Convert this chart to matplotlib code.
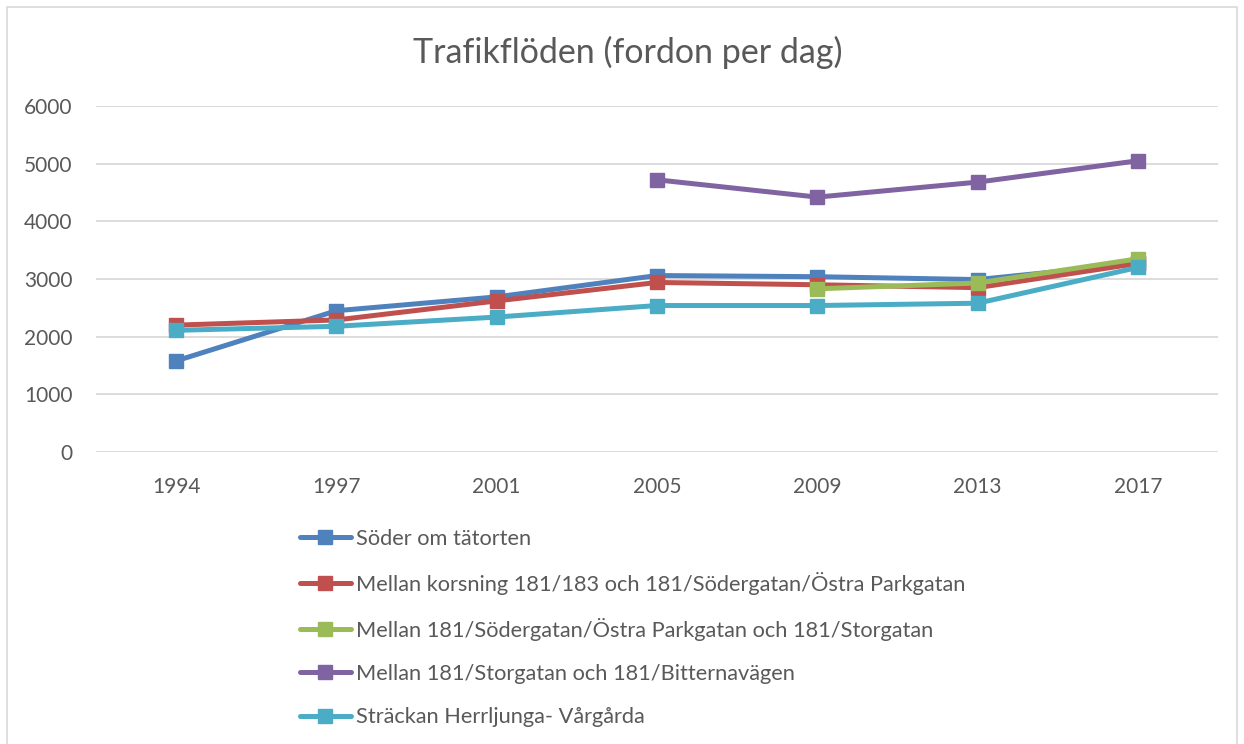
import matplotlib
matplotlib.use("Agg")
import matplotlib.pyplot as plt
from matplotlib.patches import Rectangle

plt.rcParams['font.family'] = ['Lato', 'DejaVu Sans']

ar = ["1994", "1997", "2001", "2005", "2009", "2013", "2017"]
soder = [1580, 2450, 2690, 3060, 3040, 2990, 3270]
mellan_korsning = [2200, 2290, 2620, 2940, 2900, 2850, 3270]
mellan_sodergatan = [None, None, None, None, 2830, 2930, 3350]
mellan_storgatan = [None, None, None, 4720, 4420, 4680, 5050]
herrljunga = [2110, 2180, 2340, 2540, 2540, 2580, 3200]

serier = [
    ("Söder om tätorten", soder, "#4F81BD"),
    ("Mellan korsning 181/183 och 181/Södergatan/Östra Parkgatan", mellan_korsning, "#C0504D"),
    ("Mellan 181/Södergatan/Östra Parkgatan och 181/Storgatan", mellan_sodergatan, "#9BBB59"),
    ("Mellan 181/Storgatan och 181/Bitternavägen", mellan_storgatan, "#8064A2"),
    ("Sträckan Herrljunga- Vårgårda", herrljunga, "#4BACC6"),
]

grå = "#595959"
fig = plt.figure(figsize=(12.44, 7.44), dpi=100)
ax = fig.add_axes([96/1244, 1-452/744, 1122/1244, 346/744])

x = list(range(len(ar)))
for namn, varden, farg in serier:
    xs = [i for i, v in zip(x, varden) if v is not None]
    ys = [v for v in varden if v is not None]
    ax.plot(xs, ys, color=farg, lw=3.6, marker="s", ms=10.5, label=namn,
            solid_joinstyle="round", solid_capstyle="round")

ax.set_xlim(-0.5, 6.5)
ax.set_ylim(0, 6000)
ax.set_xticks(x)
ax.set_xticklabels(ar)
ax.set_yticks(range(0, 6001, 1000))
ax.tick_params(length=0, labelsize=15, labelcolor=grå, pad=17)
ax.tick_params(axis="x", pad=18)
ax.grid(axis="y", color="#d9d9d9", lw=1.3)
ax.set_axisbelow(True)
for s in ax.spines.values():
    s.set_visible(False)

fig.text(628/1244, 1-52/744, "Trafikflöden (fordon per dag)", ha="center", va="center",
         fontsize=24.5, color=grå)

fig.legend(loc="upper left", bbox_to_anchor=(291/1244, 1-520/744), frameon=False,
           fontsize=15.7, labelcolor=grå, handlelength=2.35, handletextpad=0.25,
           labelspacing=1.06, borderaxespad=0)

fig.patches.append(Rectangle((7/1244, -0.01), 1230/1244, 1-7/744+0.01,
                             transform=fig.transFigure, fill=False,
                             edgecolor="#d9d9d9", lw=1.2))

fig.savefig("out.png", dpi=100)
